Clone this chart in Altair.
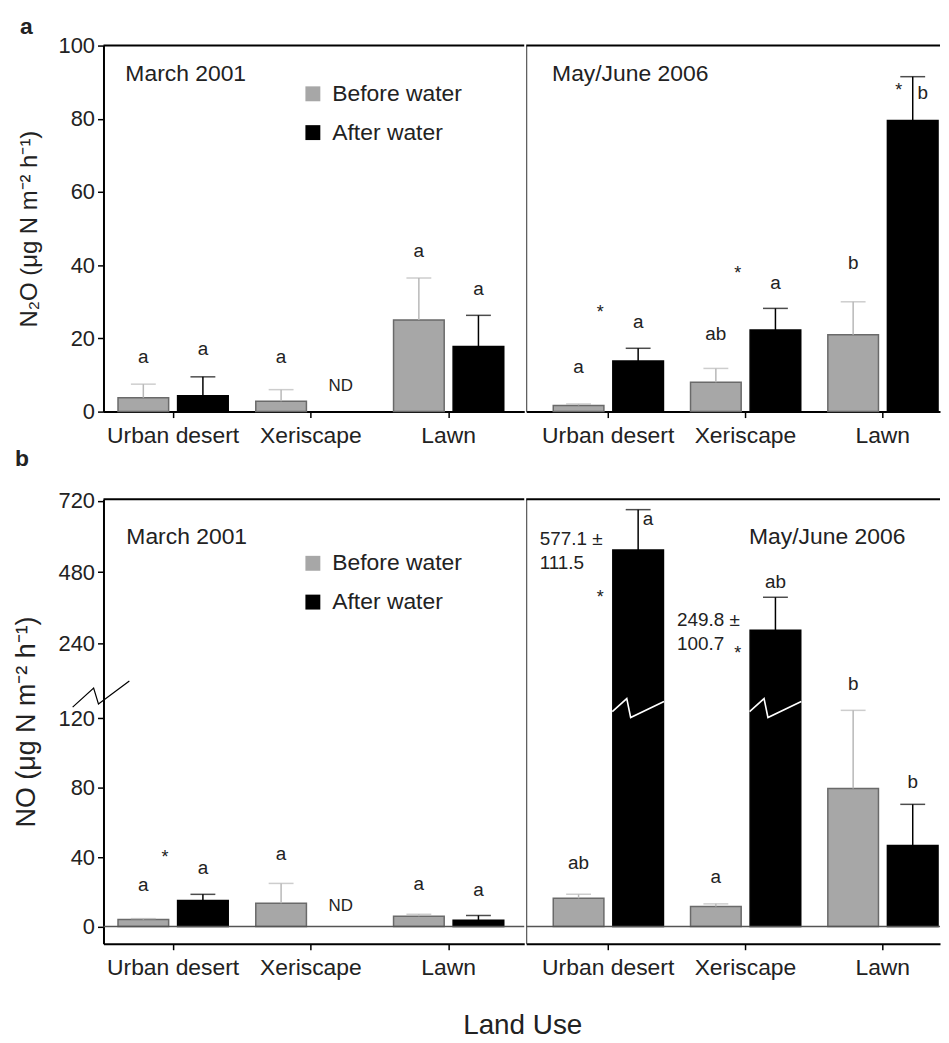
import altair as alt
import pandas as pd

FONT = "Liberation Sans"
GRAY = "#a7a7a7"
GRAY_EDGE = "#6a6a6a"
GRAY_ERR = "#b8b8b8"
TXT = "#222222"

LAND_USE = ["Urban desert", "Xeriscape", "Lawn"]
TREATMENTS = ["Before water", "After water"]
PERIODS = ["March 2001", "May/June 2006"]

# ---------------- panel a : N2O ----------------
n2o_before_2001 = [3.8, 2.8, 25.0]
n2o_before_2001_se = [3.7, 3.2, 11.5]
n2o_after_2001 = [4.3, None, 17.8]
n2o_after_2001_se = [5.2, None, 8.5]
n2o_before_2006 = [1.7, 8.0, 21.0]
n2o_before_2006_se = [0.4, 3.8, 9.0]
n2o_after_2006 = [13.8, 22.3, 79.5]
n2o_after_2006_se = [3.5, 5.9, 12.0]

n2o_letters_before_2001 = ["a", "a", "a"]
n2o_letters_before_2001_y = [15.0, 15.0, 44.0]
n2o_letters_after_2001 = ["a", "ND", "a"]
n2o_letters_after_2001_y = [17.0, 7.0, 33.4]
n2o_letters_before_2006 = ["a", "ab", "b"]
n2o_letters_before_2006_y = [12.2, 21.2, 40.5]
n2o_letters_after_2006 = ["a", "a", "b"]
n2o_letters_after_2006_y = [24.5, 35.0, 87.0]
n2o_star_2001_y = [None, None, None]
n2o_star_2006_y = [28.0, 38.6, 88.6]

# ---------------- panel b : NO ----------------
no_before_2001 = [4.0, 13.3, 5.8]
no_before_2001_se = [0.5, 11.5, 1.2]
no_after_2001 = [15.0, None, 3.5]
no_after_2001_se = [3.5, None, 2.8]
no_before_2006 = [16.2, 11.5, 79.6]
no_before_2006_se = [2.3, 1.5, 45.0]
no_after_2006 = [555.0, 285.0, 46.7]
no_after_2006_se = [135.0, 111.0, 23.7]

no_letters_before_2001 = ["a", "a", "a"]
no_letters_before_2001_y = [24.1, 41.5, 24.7]
no_letters_after_2001 = ["a", "ND", "a"]
no_letters_after_2001_y = [33.4, 12.0, 20.7]
no_letters_before_2006 = ["ab", "a", "b"]
no_letters_before_2006_y = [36.8, 28.7, 140.0]
no_letters_after_2006 = ["a", "ab", "b"]
no_letters_after_2006_y = [658.0, 446.5, 83.1]
no_star_2001_y = [42.0, None, None]
no_star_2006_y = [406.0, 218.0, None]
no_value_labels_2006 = ["577.1 ±\n111.5", "249.8 ±\n100.7", None]
no_value_labels_2006_y = [591.0, 320.0, None]

n2o_ticks = [0, 20, 40, 60, 80, 100]
no_ticks = [0, 40, 80, 120, 240, 480, 720]

# broken NO axis: linear up to LOW_TOP, compressed above
LOW_TOP = 145.0
UP_BASE = 240.0
UP_BASE_POS = 163.0
UP_K = 0.171875


def disp_a(v):
    return v


def disp_b(v):
    return v if v <= LOW_TOP else UP_BASE_POS + (v - UP_BASE) * UP_K


def bar_frame(before, before_se, after, after_se, disp):
    rows = []
    for i, land in enumerate(LAND_USE):
        for treat, vals, ses in (("Before water", before, before_se),
                                 ("After water", after, after_se)):
            m, s = vals[i], ses[i]
            if m is None:
                continue
            rows.append(dict(land=land, treat=treat, mean=m, top=m + s,
                             dm=disp(m), dt=disp(m + s)))
    return pd.DataFrame(rows)


def letter_frame(lb, lby, la, lay, bars, disp):
    rows = []
    for i, land in enumerate(LAND_USE):
        for treat, labs, ys in (("Before water", lb, lby), ("After water", la, lay)):
            if labs[i] is None:
                continue
            b = bars[(bars.land == land) & (bars.treat == treat)]
            side = bool(len(b)) and ys[i] < float(b.top.iloc[0])
            rows.append(dict(land=land, treat=treat, label=labs[i], ly=disp(ys[i]),
                             side=side))
    return pd.DataFrame(rows)


def star_frame(star_y, bars, disp):
    rows = []
    for i, land in enumerate(LAND_USE):
        if star_y[i] is None:
            continue
        b = bars[(bars.land == land) & (bars.treat == "After water")]
        beside = bool(len(b)) and float(b["mean"].iloc[0]) < star_y[i] < float(b.top.iloc[0])
        rows.append(dict(land=land, treat="After water", label="*",
                         sy=disp(star_y[i]), beside=beside))
    return pd.DataFrame(rows, columns=["land", "treat", "label", "sy", "beside"])


def value_frame(labels, ys, disp):
    rows = []
    for i, land in enumerate(LAND_USE):
        if labels[i] is None:
            continue
        rows.append(dict(land=land, treat="After water", label=labels[i], vy=disp(ys[i])))
    return pd.DataFrame(rows, columns=["land", "treat", "label", "vy"])


X_LEFT = alt.Scale(domain=LAND_USE, paddingInner=0.2, paddingOuter=0.127, align=0.415)
X_RIGHT = alt.Scale(domain=LAND_USE, paddingInner=0.2, paddingOuter=0.107, align=0.92)
XOFF = alt.XOffset("treat:N", scale=alt.Scale(domain=TREATMENTS, paddingInner=0.15, paddingOuter=0))

X_AXIS = alt.Axis(title=None, labelFontSize=23, labelColor=TXT, labelAngle=0,
                  tickSize=6, tickWidth=1.5, tickColor="black",
                  domainColor="black", domainWidth=2, labelPadding=7)

AXIS_BREAK_PATH = "M-1,0.46 L-0.26,-0.21 L-0.09,0.35 L1,-0.46"
BAR_BREAK_PATH = "M-1,0.12 L-0.44,-0.38 L-0.29,0.35 L1,-0.27"

one = pd.DataFrame({"k": [0]})


def sub_chart(period, bars, letters, stars, values, width, height, yscale, yaxis,
              xscale, legend_y, period_x, period_y, broken, left):
    x_main = alt.X("land:N", scale=xscale, axis=X_AXIS)
    x = alt.X("land:N")
    color = alt.Color("treat:N", scale=alt.Scale(domain=TREATMENTS, range=[GRAY, "black"]),
                      legend=(alt.Legend(orient="none", legendX=199, legendY=legend_y, title=None,
                                         symbolType="square", symbolSize=225, labelFontSize=23,
                                         labelColor=TXT, rowPadding=15, labelOffset=8,
                                         symbolStrokeWidth=0, padding=0) if left else None))
    layers = []
    layers.append(alt.Chart(bars).mark_bar(strokeWidth=1.5).encode(
        x=x_main, xOffset=XOFF,
        y=alt.Y("dm:Q", scale=yscale, axis=yaxis),
        color=color,
        stroke=alt.condition("datum.treat == 'Before water'", alt.value(GRAY_EDGE), alt.value("black")),
    ))
    layers.append(alt.Chart(bars).mark_rule(strokeWidth=1.5).encode(
        x=x, xOffset=XOFF, y=alt.Y("dm:Q"), y2="dt:Q",
        color=alt.condition("datum.treat == 'Before water'", alt.value(GRAY_ERR), alt.value("black")),
    ))
    layers.append(alt.Chart(bars).mark_tick(size=25, thickness=1.5).encode(
        x=x, xOffset=XOFF, y=alt.Y("dt:Q"),
        color=alt.condition("datum.treat == 'Before water'", alt.value(GRAY_ERR), alt.value("black")),
    ))
    size_enc = alt.condition("datum.label == 'ND'", alt.value(17), alt.value(19))
    layers.append(alt.Chart(letters).transform_filter("!datum.side").mark_text(
        color=TXT, baseline="middle").encode(
        x=x, xOffset=XOFF, y=alt.Y("ly:Q"), text="label:N", size=size_enc))
    layers.append(alt.Chart(letters).transform_filter("datum.side").mark_text(
        color=TXT, baseline="middle", dx=10).encode(
        x=x, xOffset=XOFF, y=alt.Y("ly:Q"), text="label:N", size=size_enc))
    if len(stars):
        layers.append(alt.Chart(stars).transform_filter("!datum.beside").mark_text(
            color=TXT, baseline="middle", fontSize=18, dx=-38, dy=4).encode(
            x=x, xOffset=XOFF, y=alt.Y("sy:Q"), text="label:N"))
        layers.append(alt.Chart(stars).transform_filter("datum.beside").mark_text(
            color=TXT, baseline="middle", fontSize=18, dx=-14, dy=4).encode(
            x=x, xOffset=XOFF, y=alt.Y("sy:Q"), text="label:N"))
    if len(values):
        layers.append(alt.Chart(values).mark_text(
            color=TXT, baseline="middle", align="left", fontSize=19, dx=-99,
            lineBreak="\n", lineHeight=24).encode(
            x=x, xOffset=XOFF, y=alt.Y("vy:Q"), text="label:N"))
    if broken:
        layers.append(alt.Chart(one).mark_rule(color="#555555", strokeWidth=1.5).encode(
            y=alt.datum(0)))
        if left:
            layers.append(alt.Chart(one).mark_point(
                shape=AXIS_BREAK_PATH, size=3249, filled=False, color="black",
                strokeWidth=1.2, opacity=1).encode(
                x=alt.value(-2.5), y=alt.datum(134.0)))
        big = bars[bars["mean"] > LOW_TOP]
        if len(big):
            layers.append(alt.Chart(big).mark_point(
                shape=BAR_BREAK_PATH, size=2704, filled=False, color="white",
                strokeWidth=1.6, opacity=1).encode(
                x=x, xOffset=XOFF, y=alt.datum(125.7)))
    layers.append(alt.Chart(one).mark_rule(color="black", strokeWidth=2).encode(
        x=alt.value(0), x2=alt.value(width), y=alt.value(0)))
    layers.append(alt.Chart(pd.DataFrame({"t": [period]})).mark_text(
        align="left", baseline="middle", fontSize=23, color=TXT).encode(
        text="t:N", x=alt.value(period_x), y=alt.value(period_y)))
    return alt.layer(*layers).properties(width=width, height=height)


W_LEFT, W_RIGHT = 423, 416
H_A, H_B = 368, 447

# ---- panel a
bars_a1 = bar_frame(n2o_before_2001, n2o_before_2001_se, n2o_after_2001, n2o_after_2001_se, disp_a)
bars_a2 = bar_frame(n2o_before_2006, n2o_before_2006_se, n2o_after_2006, n2o_after_2006_se, disp_a)
let_a1 = letter_frame(n2o_letters_before_2001, n2o_letters_before_2001_y,
                      n2o_letters_after_2001, n2o_letters_after_2001_y, bars_a1, disp_a)
let_a2 = letter_frame(n2o_letters_before_2006, n2o_letters_before_2006_y,
                      n2o_letters_after_2006, n2o_letters_after_2006_y, bars_a2, disp_a)
star_a1 = star_frame(n2o_star_2001_y, bars_a1, disp_a)
star_a2 = star_frame(n2o_star_2006_y, bars_a2, disp_a)
empty_vals = value_frame([None, None, None], [None, None, None], disp_a)

ys_a = alt.Scale(domain=[0, 100], nice=False, zero=False)
yaxis_a = alt.Axis(values=n2o_ticks, title="N₂O (μg N m⁻² h⁻¹)", titleFontSize=24,
                   titleFontWeight="normal", titleColor=TXT, titleBaseline="middle",
                   titleX=-74, labelFontSize=22, labelColor=TXT, labelPadding=3,
                   tickSize=6, tickWidth=1.5, tickColor="black",
                   domainColor="black", domainWidth=2)
yaxis_right = alt.Axis(title=None, labels=False, ticks=False, domainColor="#333333",
                       domainWidth=1)

a_left = sub_chart(PERIODS[0], bars_a1, let_a1, star_a1, empty_vals, W_LEFT, H_A, ys_a, yaxis_a,
                   X_LEFT, 37, 22, 29, False, True)
a_right = sub_chart(PERIODS[1], bars_a2, let_a2, star_a2, empty_vals, W_RIGHT, H_A, ys_a,
                    yaxis_right, X_RIGHT, 37, 26, 29, False, False)

# ---- panel b
bars_b1 = bar_frame(no_before_2001, no_before_2001_se, no_after_2001, no_after_2001_se, disp_b)
bars_b2 = bar_frame(no_before_2006, no_before_2006_se, no_after_2006, no_after_2006_se, disp_b)
let_b1 = letter_frame(no_letters_before_2001, no_letters_before_2001_y,
                      no_letters_after_2001, no_letters_after_2001_y, bars_b1, disp_b)
let_b2 = letter_frame(no_letters_before_2006, no_letters_before_2006_y,
                      no_letters_after_2006, no_letters_after_2006_y, bars_b2, disp_b)
star_b1 = star_frame(no_star_2001_y, bars_b1, disp_b)
star_b2 = star_frame(no_star_2006_y, bars_b2, disp_b)
vals_b2 = value_frame(no_value_labels_2006, no_value_labels_2006_y, disp_b)

label_expr = ("datum.value > %g ? format(round(%g + (datum.value - %g) / %g), 'd') "
              ": format(datum.value, 'd')") % (LOW_TOP, UP_BASE, UP_BASE_POS, UP_K)
ys_b = alt.Scale(domain=[-10, 246.4], nice=False, zero=False)
yaxis_b = alt.Axis(values=[disp_b(v) for v in no_ticks], labelExpr=label_expr,
                   title="NO (μg N m⁻² h⁻¹)", titleFontSize=27,
                   titleFontWeight="normal", titleColor=TXT, titleBaseline="middle",
                   titleX=-77, labelFontSize=22, labelColor=TXT, labelPadding=3,
                   tickSize=6, tickWidth=1.5, tickColor="black",
                   domainColor="black", domainWidth=2)

b_left = sub_chart(PERIODS[0], bars_b1, let_b1, star_b1, empty_vals, W_LEFT, H_B, ys_b, yaxis_b,
                   X_LEFT, 53, 23, 38, True, True)
b_right = sub_chart(PERIODS[1], bars_b2, let_b2, star_b2, vals_b2, W_RIGHT, H_B, ys_b,
                    yaxis_right, X_RIGHT, 53, 224, 38, True, False)

panel_a = alt.hconcat(a_left, a_right, spacing=0).resolve_scale(color="independent").properties(
    title=alt.TitleParams("a", anchor="start", fontSize=23, fontWeight="bold", color=TXT,
                          offset=-4, dx=2))
panel_b = alt.hconcat(b_left, b_right, spacing=0).resolve_scale(color="independent").properties(
    title=alt.TitleParams("b", anchor="start", fontSize=23, fontWeight="bold", color=TXT,
                          offset=19, dx=2))

chart = alt.vconcat(panel_a, panel_b, spacing=0).properties(
    title=alt.TitleParams("Land Use", orient="bottom", anchor="middle", fontSize=28,
                          fontWeight="normal", color=TXT, offset=33, dx=46),
    padding={"left": 5, "top": 5, "right": 0, "bottom": 0},
).configure(font=FONT).configure_view(strokeWidth=0).configure_axis(grid=False)

chart.save("out.html", embed_options={"renderer": "svg", "actions": False})
